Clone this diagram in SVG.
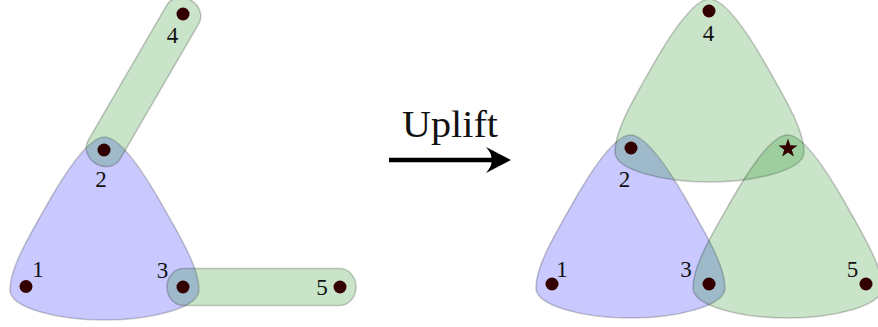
<svg xmlns="http://www.w3.org/2000/svg" width="878" height="327" viewBox="0 0 878 327">
<style>
.blue{fill:#0000ff;fill-opacity:0.21;stroke:#000;stroke-opacity:0.2;stroke-width:1.6}
.green{fill:#008000;fill-opacity:0.21;stroke:#000;stroke-opacity:0.2;stroke-width:1.6}
.dot{fill:#330000}
.lbl{font-family:"Liberation Serif","DejaVu Serif",serif;font-size:23px;fill:#111;text-anchor:middle}
</style>
<defs>
<path id="tri" d="M104.5,137 C119,137 141,168 161,203 C181,238 199,268 199,290 C199,308 151,320 104.5,320 C58,320 10,308 10,290 C10,268 28,238 48,203 C68,168 90,137 104.5,137 Z"/>
</defs>
<g id="edges-left">
<use id="edge-123" href="#tri" class="blue"/>
<rect id="edge-24" class="green" x="-94.5" y="-18.5" width="189" height="37" rx="16" ry="18.5" transform="translate(143.5,82) rotate(-59.85)"/>
<rect id="edge-35" class="green" x="167" y="268.5" width="189" height="37" rx="16" ry="18.5"/>
</g>
<g id="edges-right">
<use id="edge-r123" href="#tri" class="blue" transform="translate(526,-2)"/>
<use id="edge-r24s" href="#tri" class="green" transform="translate(605,-138)"/>
<use id="edge-r3s5" href="#tri" class="green" transform="translate(683,-2)"/>
</g>
<g id="connectors">
<line x1="389" y1="160" x2="492" y2="160" stroke="#000" stroke-width="4.4"/>
<path d="M511,160 L486,147 Q493,155 491,160 Q493,165 486,173 Z" fill="#000"/>
</g>
<text class="lbl" x="450" y="137" style="font-size:38px" textLength="96" lengthAdjust="spacingAndGlyphs">Uplift</text>
<g id="node-L1"><circle class="dot" cx="26" cy="286.5" r="6.5"/><text class="lbl" x="38" y="277">1</text></g>
<g id="node-L2"><circle class="dot" cx="104" cy="150" r="6.5"/><text class="lbl" x="101" y="187">2</text></g>
<g id="node-L3"><circle class="dot" cx="183" cy="287" r="6.5"/><text class="lbl" x="162.5" y="278">3</text></g>
<g id="node-L4"><circle class="dot" cx="183" cy="14" r="6.5"/><text class="lbl" x="172.5" y="43">4</text></g>
<g id="node-L5"><circle class="dot" cx="340" cy="287" r="6.5"/><text class="lbl" x="322" y="295">5</text></g>
<g id="node-R1"><circle class="dot" cx="552" cy="284" r="6.5"/><text class="lbl" x="562" y="277">1</text></g>
<g id="node-R2"><circle class="dot" cx="631" cy="148" r="6.5"/><text class="lbl" x="624.5" y="187">2</text></g>
<g id="node-R3"><circle class="dot" cx="709" cy="284" r="6.5"/><text class="lbl" x="686" y="277">3</text></g>
<g id="node-R4"><circle class="dot" cx="709" cy="11" r="6.5"/><text class="lbl" x="708.5" y="41">4</text></g>
<g id="node-R5"><circle class="dot" cx="866" cy="284" r="6.5"/><text class="lbl" x="852.5" y="277">5</text></g>
<g id="node-star"><polygon class="dot" points="788,138.5 790.35,145.26 797.51,145.41 791.8,149.74 793.88,156.59 788,152.5 782.12,156.59 784.2,149.74 778.49,145.41 785.65,145.26"/></g>
</svg>
